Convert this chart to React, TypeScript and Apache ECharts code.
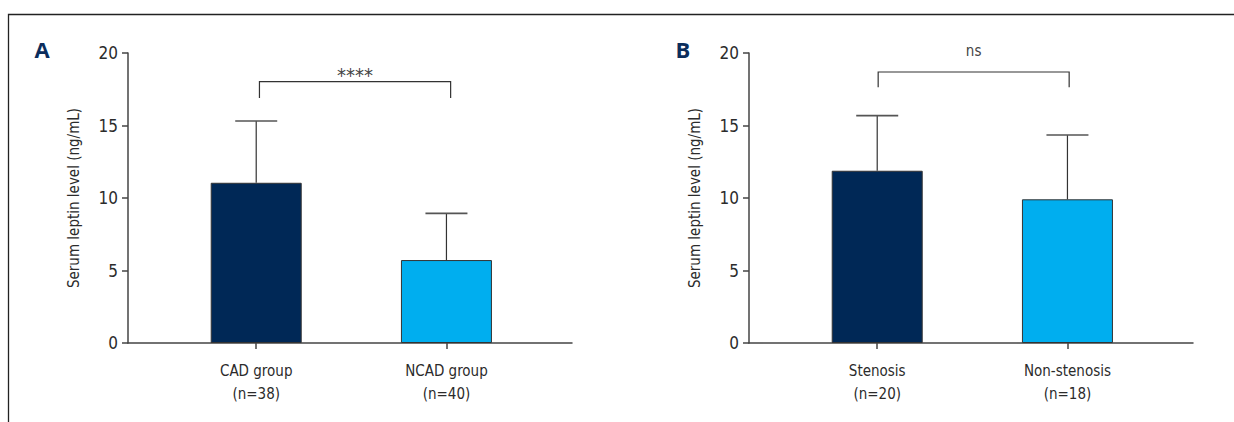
import React, { useEffect, useRef } from "react";
import * as echarts from "echarts";

// ---- data ----
const groupsA = ["CAD group\n(n=38)", "NCAD group\n(n=40)"];
const meanA = [11.05, 5.72];
const sdA = [4.26, 3.22];
const groupsB = ["Stenosis\n(n=20)", "Non-stenosis\n(n=18)"];
const meanB = [11.88, 9.91];
const sdB = [3.8, 4.43];
const yTicks = [0, 5, 10, 15, 20];
const yTitle = "Serum leptin level (ng/mL)";
const panelLabels = ["A", "B"];
const sigLabels = ["****", "ns"];
// bracket: [xLeft, xRight, barY, legY, labelY]
const bracketA = [1.017, 2.022, 18.02, 16.9, 18.45];
const bracketB = [1.005, 2.009, 18.69, 17.63, 20.15];

const barColors = ["#002856", "#00aeef"];
const FONT = "'Liberation Sans Narrow', 'DejaVu Sans Condensed', 'Roboto', sans-serif";
const TEXT = "#2b2b2b";
const AXIS = "#444";

function panel(idx: number, groups: string[], means: number[], sds: number[], bracket: number[], sig: string, sigSize: number) {
  const common = { xAxisIndex: idx, yAxisIndex: idx };
  return [
    {
      type: "bar",
      ...common,
      barWidth: 91,
      z: 2,
      data: means.map((m, i) => ({
        value: [i + 1, m],
        itemStyle: { color: barColors[i], borderColor: "#333", borderWidth: 1 },
      })),
    },
    {
      type: "custom",
      ...common,
      z: 3,
      data: means.map((m, i) => [i + 1, m, m + sds[i]]),
      renderItem: (params: any, api: any) => {
        const x = api.value(0);
        const p0 = api.coord([x, api.value(1)]);
        const p1 = api.coord([x, api.value(2)]);
        const half = 21;
        const st = { stroke: "#333", lineWidth: 1.2 };
        return {
          type: "group",
          children: [
            { type: "line", shape: { x1: p0[0], y1: p0[1], x2: p1[0], y2: p1[1] }, style: st },
            { type: "line", shape: { x1: p1[0] - half, y1: p1[1], x2: p1[0] + half, y2: p1[1] }, style: { stroke: "#555", lineWidth: 1.6 } },
          ],
        };
      },
    },
    {
      type: "custom",
      ...common,
      z: 3,
      data: [bracket],
      renderItem: (params: any, api: any) => {
        const a = api.coord([api.value(0), api.value(2)]);
        const b = api.coord([api.value(1), api.value(2)]);
        const la = api.coord([api.value(0), api.value(3)]);
        const lb = api.coord([api.value(1), api.value(3)]);
        const t = api.coord([(api.value(0) + api.value(1)) / 2, api.value(4)]);
        return {
          type: "group",
          children: [
            {
              type: "polyline",
              shape: { points: [la, a, b, lb] },
              style: { stroke: "#333", lineWidth: 1.2, fill: null },
            },
            {
              type: "text",
              x: t[0],
              y: t[1],
              style: { text: sig, fill: "#444", font: `${sigSize}px ${FONT}`, align: "center", verticalAlign: "middle" },
            },
          ],
        };
      },
    },
  ];
}

export default function App() {
  const ref = useRef<HTMLDivElement>(null);
  useEffect(() => {
    const chart = echarts.init(ref.current!, null, { renderer: "svg" });
    const xAxis = (groups: string[], gi: number) => ({
      type: "value",
      gridIndex: gi,
      min: 0.326,
      max: 2.66,
      splitLine: { show: false },
      axisLine: { show: true, lineStyle: { color: AXIS, width: 1.5 } },
      axisTick: { show: true, customValues: [1, 2], length: 6, lineStyle: { color: AXIS, width: 1.5 } },
      axisLabel: {
        customValues: [1, 2],
        formatter: (v: number) => groups[Math.round(v) - 1],
        color: TEXT,
        fontFamily: FONT,
        fontSize: 15,
        lineHeight: 23,
        margin: 16,
      },
    });
    const yAxis = (gi: number) => ({
      type: "value",
      gridIndex: gi,
      min: yTicks[0],
      max: yTicks[yTicks.length - 1],
      interval: 5,
      splitLine: { show: false },
      axisLine: { show: true, lineStyle: { color: AXIS, width: 1.5 } },
      axisTick: { show: true, length: 6, lineStyle: { color: AXIS, width: 1.5 } },
      axisLabel: { color: TEXT, fontFamily: FONT, fontSize: 17, margin: 10 },
      name: yTitle,
      nameLocation: "middle",
      nameGap: 47,
      nameTextStyle: { color: TEXT, fontFamily: FONT, fontSize: 15 },
    });
    chart.setOption({
      animation: false,
      grid: [
        { left: 128, top: 53, width: 444, height: 290 },
        { left: 749, top: 53, width: 444, height: 290 },
      ],
      xAxis: [xAxis(groupsA, 0), xAxis(groupsB, 1)],
      yAxis: [yAxis(0), yAxis(1)],
      series: [
        ...panel(0, groupsA, meanA, sdA, bracketA, sigLabels[0], 20),
        ...panel(1, groupsB, meanB, sdB, bracketB, sigLabels[1], 15),
      ],
      graphic: [
        {
          type: "polyline",
          shape: { points: [[8.5, 422], [8.5, 14.5], [1234, 14.5]] },
          style: { stroke: "#222", lineWidth: 1.3, fill: null },
        },
        {
          type: "text",
          x: 42,
          y: 49,
          style: { text: panelLabels[0], fill: "#0b2d5c", font: `bold 22px 'Open Sans', 'Liberation Sans', sans-serif`, align: "center", verticalAlign: "middle" },
        },
        {
          type: "text",
          x: 683,
          y: 49,
          style: { text: panelLabels[1], fill: "#0b2d5c", font: `bold 22px 'Open Sans', 'Liberation Sans', sans-serif`, align: "center", verticalAlign: "middle" },
        },
      ],
    });
    return () => chart.dispose();
  }, []);
  return <div ref={ref} style={{ position: "fixed", left: 0, top: 0, width: 1234, height: 422, background: "#fff" }} />;
}
